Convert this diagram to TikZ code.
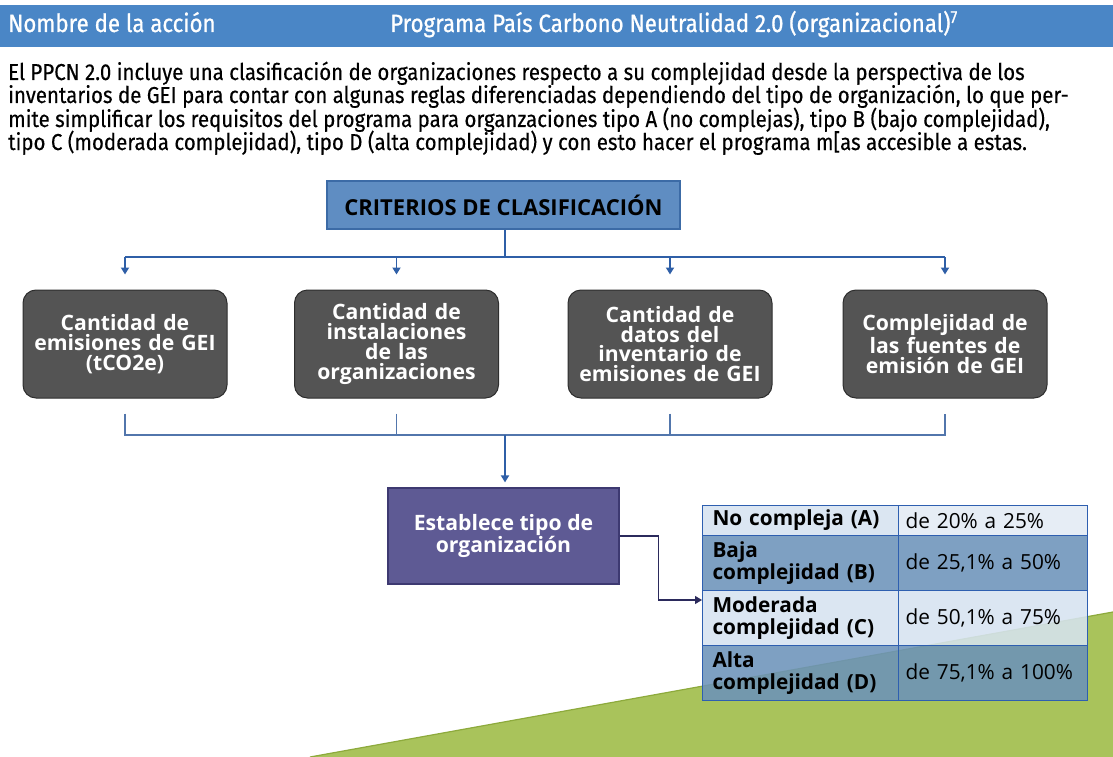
\documentclass[tikz,border=0pt]{standalone}
\usepackage{fontspec}
\setmainfont{Open Sans}
\newfontfamily\parafont[FakeStretch=0.89, FakeBold=0.3]{Fira Sans}
\newfontfamily\headfont[FakeStretch=0.89, FakeBold=0.8]{Fira Sans}
\usetikzlibrary{positioning, arrows.meta}
\definecolor{headblue}{HTML}{4A86C6}
\definecolor{critfill}{HTML}{5F8DC2}
\definecolor{critframe}{HTML}{3C6BA6}
\definecolor{grayfill}{HTML}{545454}
\definecolor{grayframe}{HTML}{2E2E2E}
\definecolor{estfill}{HTML}{5E5A94}
\definecolor{estframe}{HTML}{3D3971}
\definecolor{treeblue}{HTML}{2F5FA7}
\definecolor{brkblue}{HTML}{5276AC}
\definecolor{navyline}{HTML}{2B2A5C}
\definecolor{gridblue}{HTML}{2E5FB0}
\definecolor{rowlight}{HTML}{D6E3F0}
\definecolor{rowpale}{HTML}{E3EBF4}
\definecolor{rowdark}{HTML}{6C93B9}
\definecolor{grass}{HTML}{A9C35B}
\definecolor{grassedge}{HTML}{8DAA3C}
\newcommand{\boxfont}{\fontsize{21.2}{19.8}\selectfont\bfseries}
\newcommand{\cellfont}{\fontsize{20.8}{22}\selectfont}
\tikzset{
  headtxt/.style={anchor=base west, inner sep=0pt, text=white, font=\headfont\fontsize{25}{25}\selectfont},
  partxt/.style={anchor=base west, inner sep=0pt, font=\parafont\fontsize{23}{23}\selectfont},
  critbox/.style={draw=critframe, fill=critfill, line width=1.2pt,
    minimum width=353pt, minimum height=48pt, font=\fontsize{22}{22}\selectfont\bfseries},
  criterio/.style={draw=grayframe, fill=grayfill, rounded corners=13pt, line width=1pt,
    minimum width=204pt, minimum height=108pt, text width=200pt, align=center,
    inner sep=0pt, text=white, font=\boxfont},
  estab/.style={draw=estframe, fill=estfill, line width=1.2pt, minimum width=231pt,
    minimum height=96pt, align=center, text=white, font=\boxfont},
  cell/.style={draw=gridblue, line width=1pt, anchor=north west, align=left,
    inner xsep=10pt, inner ysep=0pt, fill opacity=0.88, text opacity=1, font=\cellfont},
  namecell/.style={cell, minimum width=196pt, text width=176pt},
  valcell/.style={cell, inner xsep=7pt, minimum width=189pt, text width=175pt},
  tree/.style={treeblue, line width=1.8pt},
  treearr/.style={tree, ->, shorten >=15pt},
  brk/.style={brkblue, line width=1.4pt},
  navyarr/.style={navyline, line width=1.3pt, ->}
}

\begin{document}
\begin{tikzpicture}[x=1pt, y=-1pt, >={Triangle[length=7pt, width=8pt]}]
  \useasboundingbox (0,0) rectangle (1113,757);

  % green ground at the bottom
  \fill[grass] (310,757) -- (1113,612) -- (1113,757) -- cycle;
  \draw[grassedge, line width=1.2pt] (310,757) -- (1113,612);

  % header bar
  \fill[headblue] (0,5) rectangle (1113,47);
  \node[headtxt] (hname) at (8,32) {Nombre de la acción};
  \node[headtxt] (htitle) at (390,32) {Programa País Carbono Neutralidad 2.0 (organizacional)\textsuperscript{7}};

  % text
  \node[partxt] (line1) at (8,80) {El PPCN 2.0 incluye una clasificación de organizaciones respecto a su complejidad desde la perspectiva de los};
  \node[partxt] (line2) at (8,103) {inventarios de GEI para contar con algunas reglas diferenciadas dependiendo del tipo de organización, lo que per-};
  \node[partxt] (line3) at (8,127) {mite simplificar los requisitos del programa para organzaciones tipo A (no complejas), tipo B (bajo complejidad),};
  \node[partxt] (line4) at (8,150) {tipo C (moderada complejidad), tipo D (alta complejidad) y con esto hacer el programa m[as accesible a estas.};

  % criteria
  \node[critbox] (crit) at (503.5,205) {CRITERIOS DE CLASIFICACIÓN};
  \node[criterio] (c1) at (125,344) {Cantidad de\\emisiones de GEI\\(tCO2e)};
  \node[criterio] (c2) at (396.5,344) {Cantidad de\\instalaciones\\de las\\organizaciones};
  \node[criterio] (c3) at (670,344) {Cantidad de\\datos del\\inventario de\\emisiones de GEI};
  \node[criterio] (c4) at (945,344) {Complejidad de\\las fuentes de\\emisión de GEI};

  \coordinate (bus) at (505,257);
  \draw[tree] (crit.south -| bus) -- (bus);
  \draw[tree] (c1.north |- bus) -- (c4.north |- bus);
  \foreach \n in {c1,c2,c3,c4}
    \draw[treearr] (\n.north |- bus) -- (\n.north);

  % result
  \node[estab] (est) at (503.5,536) {Establece tipo de\\organización};
  \coordinate (join) at (505,435);
  \draw[brk] ([yshift=-15pt]c1.south) -- (c1.south |- join) -- (c4.south |- join) -- ([yshift=-15pt]c4.south);
  \draw[brk] ([yshift=-15pt]c2.south) -- (c2.south |- join);
  \draw[brk] ([yshift=-15pt]c3.south) -- (c3.south |- join);
  \draw[treearr, shorten >=5pt] (join) -- (est.north -| join);

  % table of types
  \node[namecell, fill=rowlight, minimum height=30pt] (ta) at (702,505) {\bfseries No compleja (A)};
  \node[valcell, fill=rowpale, minimum height=30pt] (va) at (898,505) {de 20\% a 25\%};
  \node[namecell, fill=rowdark, minimum height=55pt] (tb) at (702,535) {\bfseries Baja\\\bfseries complejidad (B)};
  \node[valcell, fill=rowdark, minimum height=55pt] (vb) at (898,535) {de 25,1\% a 50\%};
  \node[namecell, fill=rowlight, minimum height=55pt] (tc) at (702,590) {\bfseries Moderada\\\bfseries complejidad (C)};
  \node[valcell, fill=rowlight, minimum height=55pt] (vc) at (898,590) {de 50,1\% a 75\%};
  \node[namecell, fill=rowdark, minimum height=55pt] (td) at (702,645) {\bfseries Alta\\\bfseries complejidad (D)};
  \node[valcell, fill=rowdark, minimum height=55pt] (vd) at (898,645) {de 75,1\% a 100\%};

  \coordinate (tin) at (702,600);
  \draw[navyarr] (est.east) -- ++(39,0) |- (tin);

\end{tikzpicture}
\end{document}
